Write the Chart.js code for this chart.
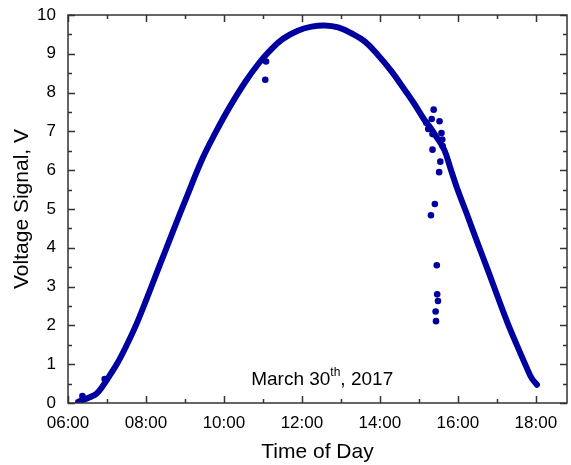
<!DOCTYPE html>
<html>
<head>
<meta charset="utf-8">
<title>Voltage Signal - March 30th, 2017</title>
<script src="https://cdn.jsdelivr.net/npm/chart.js@4"></script>
<style>
  html, body { margin: 0; padding: 0; background: #fff; }
  #chart { display: block; }
</style>
</head>
<body>
<canvas id="chart" width="571" height="465"></canvas>
<script>
// Time of day in decimal hours, voltage in V
const curveHours = [6.26, 6.56, 6.73, 6.9, 7.07, 7.28, 7.5, 7.75, 8.0, 8.34, 8.68, 9.02, 9.45, 9.79,
  10.13, 10.55, 10.89, 11.15, 11.49, 11.91, 12.25, 12.59, 12.93, 13.27, 13.61, 13.95, 14.29, 14.63,
  14.89, 15.14, 15.27, 15.45, 15.65, 15.82, 15.99, 16.25, 16.5, 16.76, 17.01, 17.27, 17.52, 17.78,
  17.9, 18.03];
const curveVolts = [0.03, 0.15, 0.24, 0.45, 0.71, 1.05, 1.48, 2.02, 2.64, 3.52, 4.39, 5.25, 6.3, 6.98,
  7.6, 8.28, 8.75, 9.05, 9.37, 9.6, 9.7, 9.73, 9.68, 9.53, 9.32, 8.97, 8.56, 8.08,
  7.7, 7.3, 7.13, 6.86, 6.53, 6.02, 5.51, 4.82, 4.14, 3.45, 2.77, 2.08, 1.48, 0.88,
  0.63, 0.47];

// stray readings
const strayHours = [6.37, 6.94, 11.08, 11.06, 15.38, 15.33, 15.53, 15.19, 15.24, 15.35, 15.58, 15.6,
  15.61, 15.35, 15.55, 15.52, 15.41, 15.31, 15.46, 15.47, 15.49, 15.43, 15.44];
const strayVolts = [0.18, 0.62, 8.8, 8.33, 7.56, 7.32, 7.26, 7.22, 7.06, 6.93, 6.96, 6.79,
  6.62, 6.53, 6.22, 5.95, 5.13, 4.84, 3.55, 2.8, 2.63, 2.36, 2.11];

const xTickHours = [6, 8, 10, 12, 14, 16, 18];
const xMinorHours = [7, 9, 11, 13, 15, 17];
const yTickVolts = [0, 1, 2, 3, 4, 5, 6, 7, 8, 9, 10];

const FONT = "'Liberation Sans', Arial, sans-serif";
const NAVY = '#0000a0';

const pad2 = n => (n < 10 ? '0' : '') + n;

// frame, inward ticks on all sides, and the date note
const framePlugin = {
  id: 'frame',
  afterDraw(chart) {
    const { ctx, chartArea: a, scales } = chart;
    const xs = scales.x, ys = scales.y;
    ctx.save();
    ctx.strokeStyle = '#333';
    ctx.lineWidth = 1.5;
    ctx.strokeRect(a.left, a.top, a.right - a.left, a.bottom - a.top);

    ctx.beginPath();
    const xMarks = xTickHours.map(h => [h, 7]).concat(xMinorHours.map(h => [h, 4]));
    xMarks.forEach(([h, len]) => {
      const px = Math.round(xs.getPixelForValue(h)) + 0.5;
      ctx.moveTo(px, a.bottom); ctx.lineTo(px, a.bottom - len);
      ctx.moveTo(px, a.top); ctx.lineTo(px, a.top + len);
    });
    yTickVolts.forEach(v => {
      [[v, 7], [v + 0.5, 4]].forEach(([val, len]) => {
        if (val > 10) return;
        const py = Math.round(ys.getPixelForValue(val)) + 0.5;
        ctx.moveTo(a.left, py); ctx.lineTo(a.left + len, py);
        ctx.moveTo(a.right, py); ctx.lineTo(a.right - len, py);
      });
    });
    ctx.stroke();

    // "March 30th, 2017"
    const cx = xs.getPixelForValue(12.52), cy = ys.getPixelForValue(0.6);
    ctx.fillStyle = '#000';
    ctx.textBaseline = 'middle';
    ctx.textAlign = 'left';
    const p1 = 'March 30', p3 = ', 2017';
    ctx.font = '12px ' + FONT;
    const w2 = ctx.measureText('th').width;
    ctx.font = '19px ' + FONT;
    const w1 = ctx.measureText(p1).width, w3 = ctx.measureText(p3).width;
    const x0 = cx - (w1 + w2 + w3) / 2;
    ctx.fillText(p1, x0, cy);
    ctx.fillText(p3, x0 + w1 + w2, cy);
    ctx.font = '12px ' + FONT;
    ctx.fillText('th', x0 + w1, cy - 7);
    ctx.restore();
  }
};

new Chart(document.getElementById('chart'), {
  type: 'scatter',
  data: {
    datasets: [
      {
        label: 'Voltage',
        data: curveHours.map((h, i) => ({ x: h, y: curveVolts[i] })),
        showLine: true,
        borderColor: NAVY,
        borderWidth: 6,
        borderCapStyle: 'round',
        borderJoinStyle: 'round',
        tension: 0.4,
        pointRadius: 0,
        pointHoverRadius: 0
      },
      {
        label: 'Stray',
        data: strayHours.map((h, i) => ({ x: h, y: strayVolts[i] })),
        backgroundColor: NAVY,
        borderColor: NAVY,
        borderWidth: 0,
        pointRadius: 3.3
      }
    ]
  },
  options: {
    responsive: false,
    animation: false,
    events: [],
    layout: { padding: { top: 15, right: 1, bottom: 0, left: 0 } },
    plugins: {
      legend: { display: false },
      tooltip: { enabled: false }
    },
    scales: {
      x: {
        type: 'linear',
        min: 6,
        max: 18.8,
        grid: { display: false, drawTicks: false },
        border: { display: false },
        afterBuildTicks: s => { s.ticks = xTickHours.map(v => ({ value: v })); },
        afterFit: s => { s.height = 62; s.paddingLeft = 0; s.paddingRight = 0; },
        ticks: {
          padding: 10,
          color: '#000',
          font: { family: FONT, size: 17 },
          maxRotation: 0,
          callback: v => pad2(v) + ':00'
        },
        title: {
          display: true,
          text: 'Time of Day',
          color: '#000',
          font: { family: FONT, size: 21 },
          padding: { top: 0, bottom: 0 }
        }
      },
      y: {
        min: 0,
        max: 10,
        grid: { display: false, drawTicks: false },
        border: { display: false },
        afterBuildTicks: s => { s.ticks = yTickVolts.map(v => ({ value: v })); },
        afterFit: s => { s.width = 68; s.paddingTop = 0; s.paddingBottom = 0; },
        ticks: {
          padding: 12,
          color: '#000',
          font: { family: FONT, size: 17 }
        },
        title: {
          display: true,
          text: 'Voltage Signal, V',
          color: '#000',
          font: { family: FONT, size: 21 },
          padding: { top: 10, bottom: 0 }
        }
      }
    }
  },
  plugins: [framePlugin]
});
</script>
</body>
</html>
